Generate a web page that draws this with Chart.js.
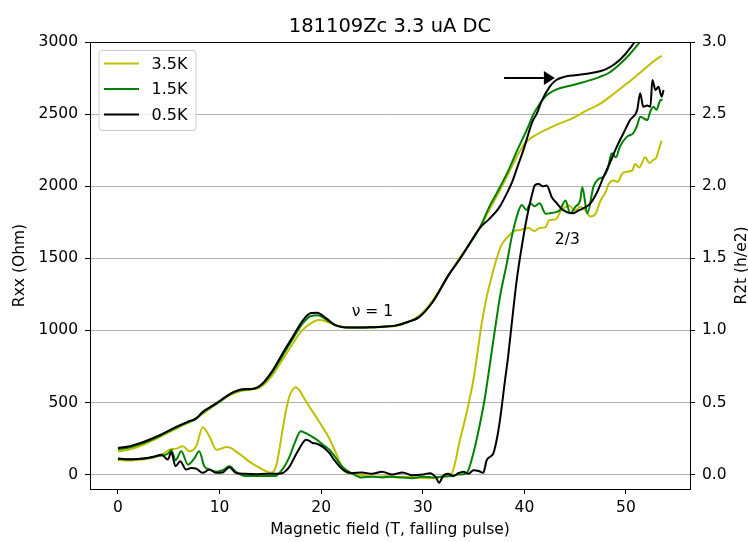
<!DOCTYPE html>
<html>
<head>
<meta charset="utf-8">
<title>181109Zc 3.3 uA DC</title>
<script src="https://cdn.jsdelivr.net/npm/chart.js@4.4.0/dist/chart.umd.min.js"></script>
<style>
  html, body { margin: 0; padding: 0; background: #fff; }
  canvas { display: block; }
</style>
</head>
<body>
<canvas id="rxxChart" width="748" height="542"></canvas>
<script>
// legend entries
const temps = ['3.5K', '1.5K', '0.5K'];
const tempColors = ['#bfbf00', '#008000', '#000000'];

// tick values
const xTicks = [0, 10, 20, 30, 40, 50];
const rxxTicks = [0, 500, 1000, 1500, 2000, 2500, 3000];
const r2tTicks = [0, 0.5, 1.0, 1.5, 2.0, 2.5, 3.0];

// R2t (h/e2), right axis
const r2tField05 = [0, 1, 2, 3, 4, 5, 6, 7, 7.7, 8.35, 9, 9.7, 10.5, 11.3, 12.3, 13.3, 14.2, 15.2, 16.2, 17.2,
  18.2, 19.0, 19.6, 20.5, 21.4, 22.8, 24, 25, 26, 27.3, 28.6, 29.6, 30.9, 32.6, 33.6, 34.6, 35.6, 36.5, 37.5, 38.2,
  38.8, 39.3, 39.9, 40.8, 41.2, 41.7, 42.5, 43.1, 44, 45, 46.6, 48, 49.3, 50.6, 51.5];
const r2t05 = [0.185, 0.195, 0.215, 0.24, 0.27, 0.305, 0.34, 0.37, 0.39, 0.435, 0.465, 0.495, 0.535, 0.57, 0.592, 0.595, 0.63, 0.72, 0.84, 0.955,
  1.07, 1.12, 1.122, 1.083, 1.037, 1.02, 1.02, 1.022, 1.025, 1.033, 1.06, 1.09, 1.19, 1.39, 1.49, 1.6, 1.71, 1.77, 1.85, 1.94,
  2.03, 2.13, 2.25, 2.45, 2.5, 2.59, 2.69, 2.735, 2.76, 2.77, 2.785, 2.81, 2.87, 2.975, 3.08];

const r2tField15 = [0, 1, 2, 3, 4, 5, 6, 7, 7.7, 8.35, 9, 9.7, 10.5, 11.3, 12.3, 13.3, 14.2, 15.2, 16.2, 17.2,
  18.2, 19.0, 19.7, 20.5, 21.4, 22.8, 24, 25, 26, 27.3, 28.6, 29.6, 30.9, 32.6, 33.6, 34.6, 35.6, 36.5, 37.5, 38.5,
  39.3, 40.3, 40.9, 41.4, 42.2, 43.1, 44.7, 46, 47.3, 48.3, 49.3, 50.3, 51.2, 52];
const r2t15 = [0.175, 0.186, 0.206, 0.233, 0.264, 0.3, 0.335, 0.365, 0.387, 0.43, 0.46, 0.49, 0.532, 0.567, 0.588, 0.593, 0.625, 0.71, 0.825, 0.94,
  1.05, 1.1, 1.105, 1.075, 1.035, 1.02, 1.02, 1.022, 1.025, 1.033, 1.06, 1.09, 1.19, 1.39, 1.49, 1.6, 1.71, 1.85, 1.98, 2.12,
  2.25, 2.40, 2.5, 2.56, 2.63, 2.67, 2.70, 2.725, 2.755, 2.785, 2.84, 2.91, 2.985, 3.06];

const r2tField35 = [0, 1, 2, 3, 4, 5, 6, 7, 8, 9, 10, 11, 12, 13, 14, 15, 16, 17, 18, 19,
  19.8, 20.5, 21.5, 22.8, 25, 27.3, 28.6, 29.6, 30.9, 32.6, 33.6, 34.6, 35.6, 36.5, 37.5, 38.3, 39.0, 39.6, 40.1, 41,
  42.1, 43.3, 44.7, 46, 47.3, 48.5, 49.6, 50.6, 51.6, 52.6, 53.5];
const r2t35 = [0.16, 0.172, 0.193, 0.222, 0.256, 0.292, 0.328, 0.362, 0.405, 0.455, 0.505, 0.55, 0.578, 0.588, 0.605, 0.67, 0.775, 0.885, 0.99, 1.05,
  1.072, 1.062, 1.035, 1.02, 1.02, 1.03, 1.06, 1.1, 1.2, 1.39, 1.5, 1.6, 1.71, 1.83, 1.96, 2.07, 2.17, 2.25, 2.3, 2.35,
  2.39, 2.43, 2.47, 2.52, 2.565, 2.625, 2.685, 2.74, 2.8, 2.86, 2.905];

// Rxx (Ohm), left axis
const rxxField05 = [0, 1, 2, 3, 3.6, 4.3, 4.9, 5.25, 5.67, 6.13, 6.7, 7.2, 7.7, 8.35, 9.0, 9.67, 10.3, 10.97, 11.6, 12.5,
  13.6, 14.6, 15.5, 16.05, 16.5, 16.9, 17.3, 17.7, 18.1, 18.5, 18.8, 19.15, 19.5, 19.8, 20.3, 20.8, 21.3, 21.8, 22.3, 23,
  24, 25, 26, 27, 28, 29, 30, 30.7, 31.3, 31.6, 32, 32.5, 33, 33.5, 34, 34.5, 35, 35.5, 35.95, 36.3,
  36.95, 37.3, 37.6, 38.1, 38.4, 38.76, 39.25, 39.74, 40.2, 40.7, 41.05, 41.4, 41.8, 42.2, 42.7, 43.2, 43.8, 44.8, 45.3, 45.8,
  46.5, 47.1, 47.8, 48.4, 49.1, 49.75, 50.4, 51.1, 51.4, 51.7, 52.1, 52.4, 52.6, 52.9, 53.2, 53.5, 53.7];
const rxx05 = [112, 106, 108, 116, 125, 138, 104, 154, 57, 92, 35, 45, 41, 12, 35, 12, 15, 51, 12, 5,
  3, 5, 5, 7, 25, 57, 110, 161, 210, 242, 235, 219, 215, 207, 185, 150, 100, 57, 25, 10,
  15, 5, 20, 0, 15, -5, 0, 10, -20, -57, -10, 5, -10, 10, 20, 5, 30, 25, 12, 101,
  148, 250, 379, 656, 818, 1049, 1350, 1580, 1766, 1927, 2008, 2016, 2000, 2004, 1924, 1881, 1835, 1812, 1830, 1847,
  1881, 1951, 2066, 2159, 2274, 2367, 2459, 2528, 2644, 2551, 2560, 2551, 2736, 2667, 2690, 2621, 2667];

const rxxField15 = [0, 1, 2, 3, 4, 4.6, 5.0, 5.25, 5.67, 6.23, 6.9, 7.5, 8.0, 8.5, 9.0, 9.67, 10.3, 10.97, 11.6, 12.5,
  13.5, 14.5, 15.5, 16.0, 16.5, 16.9, 17.4, 18.0, 18.4, 18.8, 19.3, 19.8, 20.3, 20.8, 21.3, 21.8, 22.3, 23, 24, 25,
  26, 27, 28, 29, 30, 31, 32, 32.8, 33.5, 34.3, 34.98, 35.64, 36.13, 36.62, 37.1, 37.6, 38.27, 38.76, 39.25, 39.74,
  40.2, 40.6, 41.0, 41.5, 42.1, 42.5, 43.1, 43.5, 44.05, 44.5, 45.0, 45.5, 45.7, 46.2, 46.8,
  47.3, 47.8, 48.2, 48.6, 49.0, 49.4, 50.1, 50.7, 51.1, 51.4, 52.1, 52.4, 52.7, 53.0, 53.4, 53.6];
const rxx15 = [110, 105, 108, 115, 130, 135, 150, 170, 100, 161, 69, 110, 161, 57, 35, 20, 30, 57, 20, -10,
  -10, -10, -10, 20, 70, 126, 220, 300, 290, 276, 255, 230, 200, 173, 130, 80, 40, 10, -20, -15,
  -20, -15, -20, -25, -15, -20, -15, -10, 0, 9, 148, 356, 540, 772, 1003, 1234, 1465, 1650, 1788, 1870,
  1835, 1880, 1860, 1881, 1809, 1812, 1820, 1835, 1901, 1812, 1855, 1905, 1993, 1812, 1997,
  2050, 2066, 2120, 2228, 2200, 2274, 2344, 2367, 2420, 2482, 2459, 2520, 2551, 2530, 2598, 2600];

const rxxField35 = [0, 1, 2, 3, 4, 4.6, 5.08, 5.7, 6.4, 7.04, 7.7, 8.35, 9.0, 9.67, 10.2, 10.65, 11.1, 11.6, 12.3, 12.9,
  13.6, 14.25, 15.07, 15.56, 15.9, 16.2, 16.5, 16.87, 17.2, 17.5, 17.9, 18.4, 18.83, 19.5, 20.1, 20.8, 21.45, 21.8, 22.1, 22.6,
  23.5, 24.5, 25.5, 26.5, 27.5, 28.5, 29.5, 30.5, 31.5, 32.2, 32.85, 33.66, 34.3, 34.98, 35.47, 35.8, 36.3, 36.95, 37.44, 37.8,
  38.1, 38.9, 39.55, 40.4, 41.0, 41.5, 42.1, 42.4, 43.1, 43.6, 44.05, 44.4, 45.0, 45.5, 46.0, 46.5, 47.0,
  47.5, 48.0, 48.3, 48.8, 49.2, 49.6, 50.1, 50.6, 50.9, 51.3, 51.9, 52.3, 52.6, 53.0, 53.2, 53.5];
const rxx35 = [100, 97, 102, 110, 130, 150, 173, 180, 196, 161, 196, 329, 265, 173, 180, 191, 185, 161, 125, 92,
  60, 35, 12, 57, 180, 311, 430, 541, 590, 606, 580, 520, 472, 400, 334, 250, 150, 90, 40, 10,
  0, -10, -15, -10, -20, -15, -20, -25, -20, -5, 9, 240, 425, 656, 887, 1049, 1234, 1419, 1535, 1600,
  1627, 1685, 1696, 1710, 1690, 1710, 1716, 1763, 1770, 1830, 1855, 1866, 1830, 1855, 1832, 1790, 1809,
  1901, 1960, 2016, 2040, 2030, 2085, 2100, 2108, 2154, 2130, 2200, 2160, 2177, 2200, 2246, 2316];

// text notes and arrow, in data units
const notes = [
  { text: 'ν = 1', x: 23, y: 1100 },
  { text: '2/3', x: 43, y: 1600 }
];
const arrowFrom = [38, 2750];
const arrowTo = [43, 2750];

const FONT = '"DejaVu Sans", "Liberation Sans", sans-serif';
Chart.defaults.font.family = FONT;
Chart.defaults.color = '#000';

function pairs(field, values) {
  return field.map((x, i) => ({ x: x, y: values[i] }));
}

function line(field, values, color, axis) {
  return {
    data: pairs(field, values),
    yAxisID: axis,
    borderColor: color,
    backgroundColor: color,
    borderWidth: 2,
    pointRadius: 0,
    cubicInterpolationMode: 'monotone',
    fill: false
  };
}

// first dataset is drawn on top, so black goes first
const datasets = [
  line(r2tField05, r2t05, tempColors[2], 'y1'),
  line(rxxField05, rxx05, tempColors[2], 'y'),
  line(r2tField15, r2t15, tempColors[1], 'y1'),
  line(rxxField15, rxx15, tempColors[1], 'y'),
  line(r2tField35, r2t35, tempColors[0], 'y1'),
  line(rxxField35, rxx35, tempColors[0], 'y')
];

const decor = {
  id: 'decor',
  afterDraw(chart) {
    const { ctx, chartArea: a, scales } = chart;
    const midX = (a.left + a.right) / 2;
    const midY = (a.top + a.bottom) / 2;
    ctx.save();

    // frame
    ctx.strokeStyle = '#000';
    ctx.lineWidth = 1;
    ctx.strokeRect(Math.round(a.left - 0.5) + 0.5, Math.round(a.top - 0.5) + 0.5,
      Math.round(a.right - a.left), Math.round(a.bottom - a.top));

    // title and axis titles
    ctx.fillStyle = '#000';
    ctx.textAlign = 'center';
    ctx.textBaseline = 'alphabetic';
    ctx.font = '19.5px ' + FONT;
    ctx.fillText('181109Zc 3.3 uA DC', midX, a.top - 10.5);
    ctx.font = '15.5px ' + FONT;
    ctx.fillText('Magnetic field (T, falling pulse)', midX, 534);

    ctx.save();
    ctx.translate(23.5, midY);
    ctx.rotate(-Math.PI / 2);
    ctx.fillText('Rxx (Ohm)', 0, 0);
    ctx.restore();

    ctx.save();
    ctx.translate(746, midY);
    ctx.rotate(-Math.PI / 2);
    ctx.fillText('R2t (h/e2)', 0, 0);
    ctx.restore();

    // notes
    ctx.textAlign = 'left';
    notes.forEach(n => {
      ctx.fillText(n.text, scales.x.getPixelForValue(n.x), scales.y.getPixelForValue(n.y));
    });

    // arrow
    const x0 = scales.x.getPixelForValue(arrowFrom[0]);
    const y0 = scales.y.getPixelForValue(arrowFrom[1]);
    const x1 = scales.x.getPixelForValue(arrowTo[0]);
    const y1 = scales.y.getPixelForValue(arrowTo[1]);
    const headLen = 11, headHalf = 7;
    ctx.strokeStyle = '#000';
    ctx.lineWidth = 2;
    ctx.beginPath();
    ctx.moveTo(x0, y0);
    ctx.lineTo(x1 - headLen, y1);
    ctx.stroke();
    ctx.beginPath();
    ctx.moveTo(x1, y1);
    ctx.lineTo(x1 - headLen, y1 - headHalf);
    ctx.lineTo(x1 - headLen, y1 + headHalf);
    ctx.closePath();
    ctx.fillStyle = '#000';
    ctx.fill();

    // legend box
    const bx = a.left + 9, by = a.top + 8.5, bw = 97, bh = 80, r = 3;
    ctx.beginPath();
    ctx.moveTo(bx + r, by);
    ctx.lineTo(bx + bw - r, by);
    ctx.quadraticCurveTo(bx + bw, by, bx + bw, by + r);
    ctx.lineTo(bx + bw, by + bh - r);
    ctx.quadraticCurveTo(bx + bw, by + bh, bx + bw - r, by + bh);
    ctx.lineTo(bx + r, by + bh);
    ctx.quadraticCurveTo(bx, by + bh, bx, by + bh - r);
    ctx.lineTo(bx, by + r);
    ctx.quadraticCurveTo(bx, by, bx + r, by);
    ctx.closePath();
    ctx.fillStyle = 'rgba(255,255,255,0.8)';
    ctx.fill();
    ctx.strokeStyle = '#cccccc';
    ctx.lineWidth = 1;
    ctx.stroke();

    ctx.font = '16px ' + FONT;
    ctx.textBaseline = 'middle';
    temps.forEach((t, i) => {
      const ly = by + 13 + i * 25.5;
      ctx.strokeStyle = tempColors[i];
      ctx.lineWidth = 2;
      ctx.beginPath();
      ctx.moveTo(bx + 5, ly);
      ctx.lineTo(bx + 40, ly);
      ctx.stroke();
      ctx.fillStyle = '#000';
      ctx.fillText(t, bx + 52.5, ly + 1);
    });

    ctx.restore();
  }
};

const tickFont = { size: 15.5, family: FONT };

new Chart(document.getElementById('rxxChart').getContext('2d'), {
  type: 'line',
  data: { datasets: datasets },
  options: {
    responsive: false,
    animation: false,
    devicePixelRatio: 1,
    layout: { padding: { top: 42, left: 0, right: 0, bottom: 0 } },
    plugins: {
      legend: { display: false },
      title: { display: false },
      tooltip: { enabled: false }
    },
    scales: {
      x: {
        type: 'linear',
        position: 'bottom',
        min: -2.75,
        max: 56.3,
        afterBuildTicks: s => { s.ticks = xTicks.map(v => ({ value: v })); },
        afterFit: s => { s.height = 53; },
        ticks: { font: tickFont, color: '#000', padding: 5, maxRotation: 0, autoSkip: false, callback: v => String(v) },
        grid: { drawOnChartArea: false, tickLength: 5, color: '#000', tickColor: '#000' },
        border: { display: true, color: '#000', width: 1 }
      },
      y: {
        position: 'left',
        min: -100,
        max: 3000,
        afterBuildTicks: s => { s.ticks = rxxTicks.map(v => ({ value: v })); },
        afterFit: s => { s.width = 90; },
        ticks: { font: tickFont, color: '#000', padding: 7, autoSkip: false, callback: v => String(v) },
        grid: { color: '#b0b0b0', lineWidth: 1, tickLength: 5, tickColor: '#000' },
        border: { display: true, color: '#000', width: 1 }
      },
      y1: {
        position: 'right',
        min: -0.1,
        max: 3.0,
        afterBuildTicks: s => { s.ticks = r2tTicks.map(v => ({ value: v })); },
        afterFit: s => { s.width = 58; },
        ticks: { font: tickFont, color: '#000', padding: 7, autoSkip: false, callback: v => v.toFixed(1) },
        grid: { drawOnChartArea: false, tickLength: 5, color: '#000', tickColor: '#000' },
        border: { display: true, color: '#000', width: 1 }
      }
    }
  },
  plugins: [decor]
});
</script>
</body>
</html>
